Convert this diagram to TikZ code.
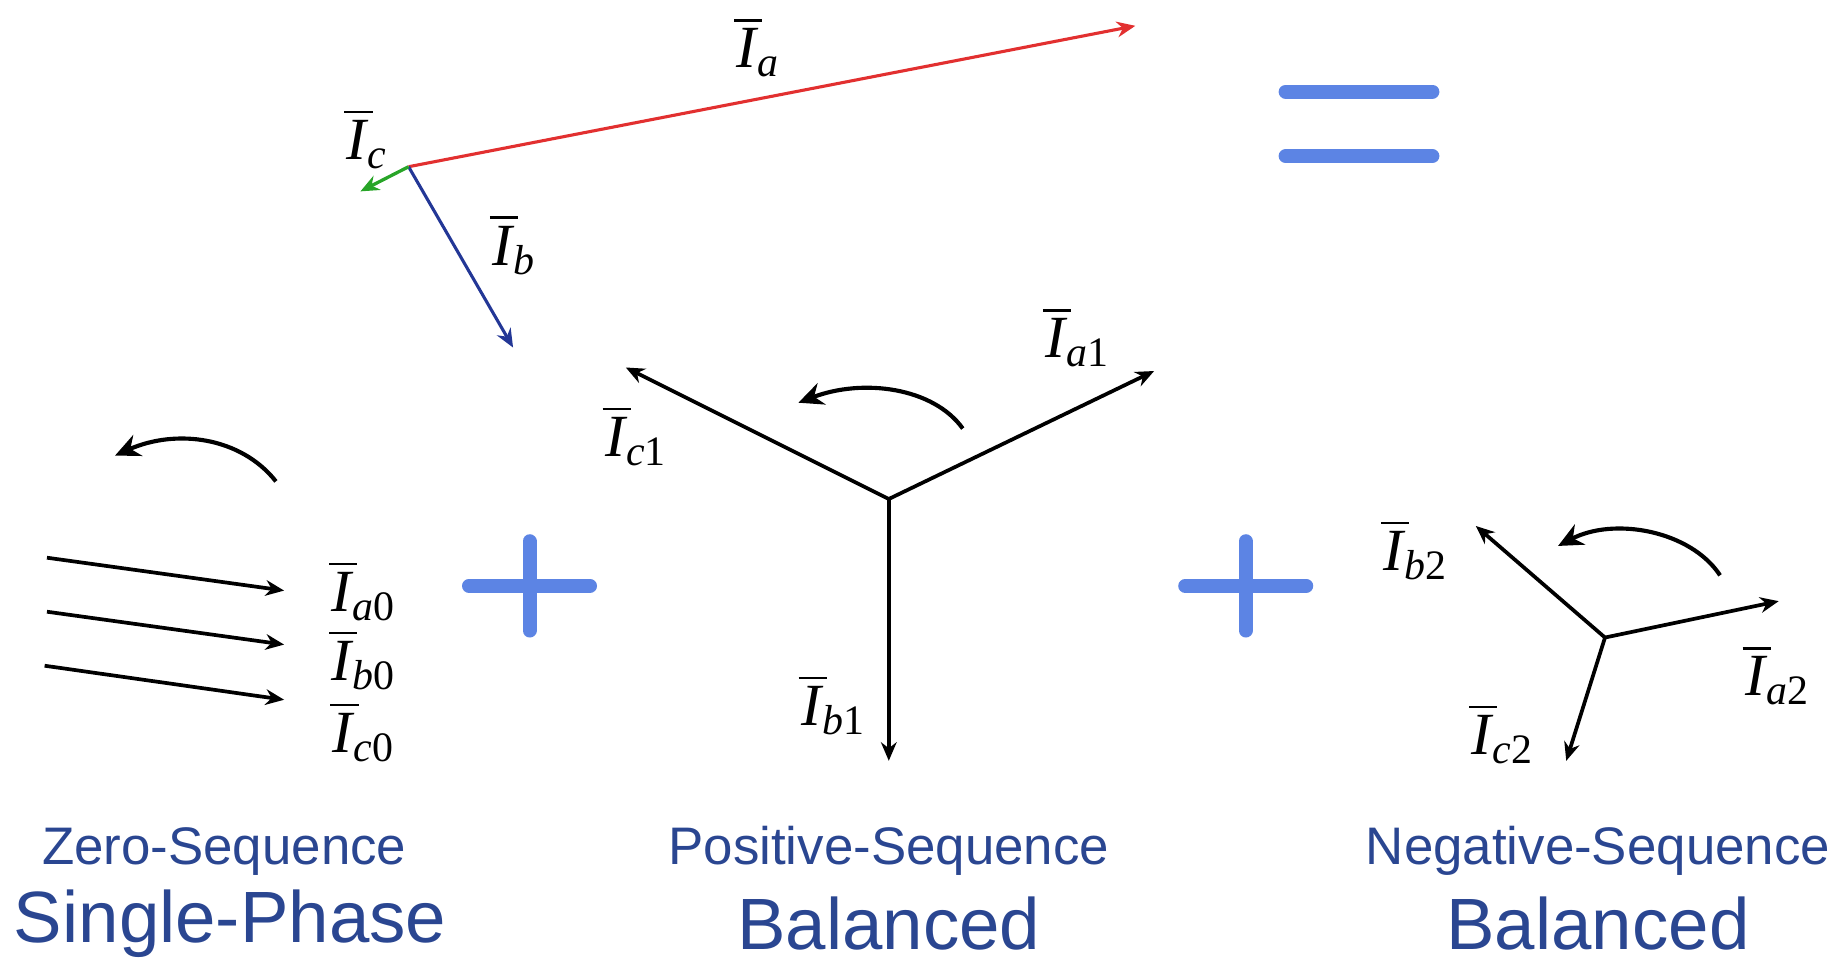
\documentclass[tikz,border=0pt]{standalone}
\usepackage{amsmath}
\usepackage{fontspec}
\setmainfont{Liberation Serif}
\newfontfamily\arialf{Liberation Sans}
\usetikzlibrary{arrows.meta}
\definecolor{redA}{RGB}{226,48,48}
\definecolor{blueB}{RGB}{35,55,150}
\definecolor{greenC}{RGB}{40,165,40}
\definecolor{opblue}{RGB}{92,132,228}
\definecolor{txtblue}{RGB}{42,70,145}
\newcommand{\phz}[2]{$\overline{\text{\itshape\kern0.04em I\kern0.1em}}_{\kern-0.08em\text{\itshape #1}\text{#2}}$}
\tikzset{
  phasor/.style={line width=0.9pt,-{Stealth[length=4.5pt,width=3.8pt]}},
  rotarc/.style={line width=1pt,-{Stealth[length=6pt,width=5.5pt]}},
  lbl/.style={inner sep=0pt,font=\fontsize{14.5}{16}\selectfont},
  opbar/.style={line width=3.4pt,opblue,line cap=round},
  smalltxt/.style={inner sep=0pt,text=txtblue,font=\arialf\fontsize{12.8}{15}\selectfont},
  bigtxt/.style={inner sep=0pt,text=txtblue,font=\arialf\fontsize{17.6}{20}\selectfont}
}
\begin{document}
\begin{tikzpicture}[x=0.01cm,y=-0.01cm]
\useasboundingbox (0,0) rectangle (1568,818);
% unbalanced set
\coordinate (O) at (348,142);
\coordinate (Ta) at (967,22);
\coordinate (Tb) at (437,296);
\coordinate (Tc) at (307,163);
\draw[phasor,redA,line width=0.75pt] (O) -- (Ta);
\draw[phasor,blueB,line width=0.75pt] (O) -- (Tb);
\draw[phasor,greenC,line width=0.8pt] (O) -- (Tc);
\node[lbl] (la) at (645,40) {\phz{a}{}};
\node[lbl] (lb) at (437,208) {\phz{b}{}};
\node[lbl] (lc) at (312,118) {\phz{c}{}};
% equal sign
\coordinate (e1l) at (1095,78); \coordinate (e1r) at (1220,78);
\coordinate (e2l) at (1095,133); \coordinate (e2r) at (1220,133);
\draw[opbar] (e1l) -- (e1r);
\draw[opbar] (e2l) -- (e2r);
% zero sequence
\coordinate (z1s) at (40,475); \coordinate (z1e) at (242,503);
\coordinate (z2s) at (40,521); \coordinate (z2e) at (242,549);
\coordinate (z3s) at (38,567); \coordinate (z3e) at (242,596);
\draw[phasor] (z1s) -- (z1e);
\draw[phasor] (z2s) -- (z2e);
\draw[phasor] (z3s) -- (z3e);
\node[lbl] (la0) at (309,503) {\phz{a}{0}};
\node[lbl] (lb0) at (309,562) {\phz{b}{0}};
\node[lbl] (lc0) at (309,623) {\phz{c}{0}};
\coordinate (za1) at (235,410); \coordinate (za2) at (98,388);
\draw[rotarc] (za1) .. controls (205,372) and (150,365) .. (za2);
% plus 1
\coordinate (p1c) at (451,499);
\draw[opbar] ([xshift=-0.515cm]p1c) -- ([xshift=0.515cm]p1c);
\draw[opbar] ([yshift=0.38cm]p1c) -- ([yshift=-0.38cm]p1c);
% positive sequence
\coordinate (P) at (757,425);
\coordinate (Pa) at (983,316);
\coordinate (Pb) at (757,648);
\coordinate (Pc) at (533,313);
\draw[phasor] (P) -- (Pa);
\draw[phasor] (P) -- (Pb);
\draw[phasor] (P) -- (Pc);
\node[lbl] (la1) at (917,287) {\phz{a}{1}};
\node[lbl] (lb1) at (709,600) {\phz{b}{1}};
\node[lbl] (lc1) at (541,371) {\phz{c}{1}};
\coordinate (pa1) at (820,365); \coordinate (pa2) at (680,343);
\draw[rotarc] (pa1) .. controls (795,330) and (735,322) .. (pa2);
% plus 2
\coordinate (p2c) at (1061,499);
\draw[opbar] ([xshift=-0.515cm]p2c) -- ([xshift=0.515cm]p2c);
\draw[opbar] ([yshift=0.38cm]p2c) -- ([yshift=-0.38cm]p2c);
% negative sequence
\coordinate (N) at (1367,543);
\coordinate (Na) at (1515,512);
\coordinate (Nb) at (1257,448);
\coordinate (Nc) at (1334,648);
\draw[phasor] (N) -- (Na);
\draw[phasor] (N) -- (Nb);
\draw[phasor] (N) -- (Nc);
\node[lbl] (la2) at (1513,575) {\phz{a}{2}};
\node[lbl] (lb2) at (1205,468) {\phz{b}{2}};
\node[lbl] (lc2) at (1279,625) {\phz{c}{2}};
\coordinate (na1) at (1465,490); \coordinate (na2) at (1327,465);
\draw[rotarc] (na1) .. controls (1440,452) and (1375,440) .. (na2);
% captions
\node[smalltxt] (t1) at (191,725) {Zero-Sequence};
\node[bigtxt] (t2) at (196,787) {Single-Phase};
\node[smalltxt] (t3) at (757,725) {Positive-Sequence};
\node[bigtxt] (t4) at (757,787) {Balanced};
\node[smalltxt] (t5) at (1361,725) {Negative-Sequence};
\node[bigtxt] (t6) at (1361,787) {Balanced};
\end{tikzpicture}
\end{document}
